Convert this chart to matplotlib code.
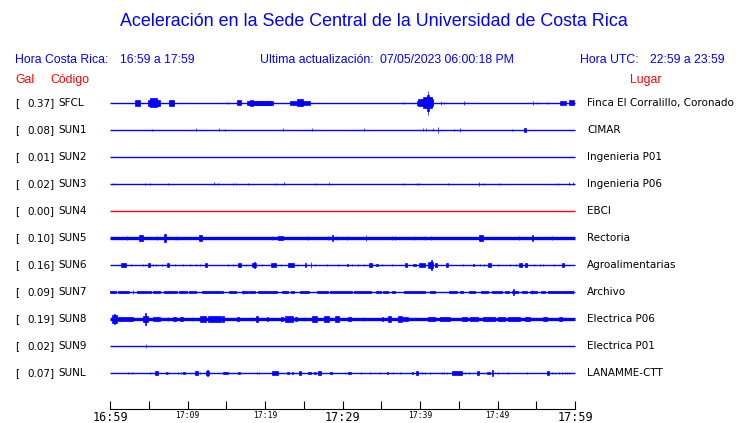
import matplotlib
matplotlib.use("Agg")
import matplotlib.pyplot as plt

# ---- data ---------------------------------------------------------------
codes = ["SFCL", "SUN1", "SUN2", "SUN3", "SUN4", "SUN5",
         "SUN6", "SUN7", "SUN8", "SUN9", "SUNL"]
peak_gal = [0.37, 0.08, 0.01, 0.02, 0.00, 0.10, 0.16, 0.09, 0.19, 0.02, 0.07]
places = ["Finca El Corralillo, Coronado", "CIMAR", "Ingenieria P01",
          "Ingenieria P06", "EBCI", "Rectoria", "Agroalimentarias",
          "Archivo", "Electrica P06", "Electrica P01", "LANAMME-CTT"]

tick_minutes = list(range(0, 61, 5))          # minutes after 16:59
tick_labels = ["16:59", "", "17:09", "", "17:19", "", "17:29",
               "", "17:39", "", "17:49", "", "17:59"]

# bursts per station: (start minute, end minute, half amplitude)
sfcl_events = [(3.23, 3.87, 2.7), (4.95, 6.45, 3.0), (5.16, 6.11, 4.5),
               (7.61, 8.26, 3.0), (15.27, 15.27, 1.0), (16.34, 16.86, 2.5),
               (17.63, 21.08, 2.0), (18.06, 18.41, 3.3), (18.5, 20.6, 2.3),
               (23.23, 25.81, 2.0), (24.09, 24.95, 3.5), (37.98, 37.98, 1.0),
               (39.57, 41.29, 2.0), (39.78, 41.72, 3.5), (40.43, 41.51, 5.5),
               (40.86, 41.20, 8.0), (41.03, 41.03, 11.7), (42.67, 42.67, 2.0),
               (43.14, 43.14, 1.3), (45.68, 45.68, 1.7), (54.62, 54.62, 2.0),
               (55.14, 55.14, 1.3), (56.56, 56.56, 1.3), (58.06, 58.80, 2.0),
               (59.27, 59.87, 2.5)]
sun1_events = [(5.46, 5.46, 1.0), (11.14, 11.14, 1.5), (14.11, 14.11, 1.5),
               (14.84, 14.84, 1.0), (22.37, 22.37, 1.5), (26.11, 26.11, 1.5),
               (32.82, 32.82, 1.5), (40.43, 40.43, 1.5), (40.77, 40.77, 1.5),
               (41.72, 41.72, 1.5), (42.37, 42.37, 2.7), (44.43, 44.43, 1.0),
               (45.16, 45.16, 2.0), (51.91, 51.91, 1.0), (53.42, 53.68, 1.8)]
sun2_events = []
sun3_events = [(0.43, 0.43, 1.2), (4.52, 4.52, 1.2), (5.16, 5.16, 1.2),
               (7.53, 7.53, 1.2), (13.46, 13.46, 1.5), (13.98, 13.98, 1.2),
               (15.91, 15.91, 1.2), (16.30, 16.30, 1.2), (17.85, 17.85, 1.2),
               (21.42, 21.42, 1.2), (22.45, 22.45, 1.5), (26.49, 26.49, 1.2),
               (28.30, 28.30, 1.5), (37.85, 37.85, 1.2), (39.66, 39.66, 1.2),
               (39.87, 39.87, 1.2), (43.66, 43.66, 1.2), (47.61, 47.61, 2.0),
               (48.17, 48.17, 1.2), (50.32, 50.32, 1.2), (57.85, 57.85, 1.2),
               (59.27, 59.27, 1.5), (59.78, 59.78, 1.5)]
sun4_events = []
sun5_events = [(2.15, 2.15, 2.3), (3.74, 4.22, 2.7), (6.11, 6.11, 2.0),
               (7.01, 7.18, 3.7), (8.69, 8.69, 2.3), (11.48, 11.83, 2.7),
               (20.95, 20.95, 2.0), (21.72, 22.28, 2.3), (25.59, 25.59, 2.0),
               (28.09, 28.09, 2.0), (28.69, 28.82, 3.0), (29.33, 29.33, 2.3),
               (30.62, 30.62, 2.3), (32.99, 32.99, 2.7), (36.43, 36.43, 2.0),
               (36.77, 36.77, 2.0), (39.27, 39.27, 2.3), (40.65, 40.65, 2.0),
               (41.42, 41.42, 2.3), (47.66, 48.17, 3.0), (52.82, 52.82, 2.0),
               (54.41, 54.54, 3.0), (56.99, 56.99, 2.0)]
sun6_events = [(1.42, 2.06, 1.7), (2.71, 2.71, 1.3), (4.30, 4.30, 1.3),
               (4.52, 4.52, 1.3), (4.95, 5.16, 1.7), (5.51, 5.51, 1.3),
               (5.89, 5.89, 1.3), (6.67, 6.67, 1.3), (7.31, 7.66, 1.7),
               (8.39, 8.39, 1.3), (9.46, 9.46, 1.3), (10.32, 10.32, 1.3),
               (11.05, 11.05, 1.0), (11.61, 11.61, 1.3), (12.26, 12.56, 1.7),
               (15.27, 15.27, 1.3), (15.91, 15.91, 1.0), (16.47, 16.86, 1.7),
               (17.51, 17.51, 1.0), (18.28, 18.80, 1.7), (18.62, 18.70, 2.7),
               (19.66, 19.66, 1.0), (20.77, 21.42, 1.7), (22.06, 22.06, 1.0),
               (23.01, 23.78, 1.7), (24.30, 24.30, 1.3), (25.16, 25.29, 2.3),
               (25.89, 25.89, 2.7), (26.45, 26.45, 1.3), (27.96, 27.96, 1.0),
               (29.46, 29.46, 1.0), (30.54, 30.75, 1.3), (31.27, 31.27, 1.3),
               (31.96, 31.96, 1.3), (32.82, 32.82, 1.3), (33.46, 33.81, 1.7),
               (34.32, 34.54, 1.3), (35.14, 35.14, 1.3), (36.43, 36.43, 1.0),
               (38.06, 38.37, 1.7), (39.14, 39.48, 1.3), (39.91, 40.65, 2.0),
               (41.08, 41.72, 3.0), (41.42, 41.59, 5.3), (41.94, 42.15, 1.7),
               (43.35, 43.66, 1.7), (45.59, 45.59, 1.0), (46.80, 46.97, 1.3),
               (47.74, 47.74, 1.3), (48.26, 48.26, 1.3), (48.82, 49.12, 1.7),
               (50.11, 50.11, 1.0), (51.61, 51.61, 1.3), (52.34, 52.34, 1.3),
               (52.82, 53.12, 1.7), (53.55, 53.76, 1.7), (54.75, 54.75, 1.0),
               (55.48, 55.48, 1.3), (55.83, 55.83, 1.3), (57.29, 57.29, 1.0),
               (58.28, 58.62, 1.7)]
sun7_events = [(0.0, 0.77, 1.3), (1.08, 2.49, 1.3), (3.01, 3.01, 2.0),
               (3.44, 4.73, 1.3), (4.95, 5.25, 1.3), (5.59, 6.45, 1.3),
               (6.97, 8.69, 1.3), (8.90, 9.89, 1.3), (10.24, 10.67, 1.3),
               (10.88, 11.05, 1.3), (11.83, 14.62, 1.3), (15.35, 16.26, 1.3),
               (16.99, 17.76, 1.3), (17.2, 17.2, 2.0), (17.94, 18.71, 1.3),
               (19.14, 21.51, 1.3), (22.15, 22.92, 1.3), (23.35, 23.78, 1.3),
               (24.52, 25.72, 1.3), (26.67, 28.17, 1.3), (28.39, 31.27, 1.3),
               (31.53, 33.63, 1.3), (34.32, 34.97, 1.3), (35.27, 35.91, 1.3),
               (36.34, 36.77, 1.3), (37.98, 40.65, 1.3), (41.29, 41.94, 1.3),
               (43.78, 44.73, 1.3), (45.16, 45.51, 1.3), (46.32, 47.10, 1.3),
               (47.83, 48.82, 1.3), (49.25, 50.54, 1.3), (50.97, 51.53, 1.3),
               (51.83, 52.69, 1.3), (51.95, 52.15, 3.3), (53.12, 53.76, 1.3),
               (54.19, 55.05, 1.3), (54.41, 54.41, 2.3), (55.57, 56.13, 1.3),
               (56.56, 59.70, 1.3), (59.78, 59.78, 2.0)]
sun8_events = [(0.2, 0.86, 4.0), (0.5, 0.6, 5.0), (1.08, 2.92, 2.3),
               (4.30, 4.95, 3.0), (4.55, 4.65, 5.7), (5.59, 6.45, 2.3),
               (7.44, 7.44, 2.3), (8.09, 8.52, 2.3), (9.03, 9.46, 2.0),
               (10.75, 10.75, 2.0), (11.61, 12.39, 3.0), (12.69, 14.28, 2.7),
               (14.41, 14.75, 3.3), (16.34, 16.69, 2.3), (18.28, 18.28, 2.0),
               (18.84, 19.14, 3.0), (20.22, 20.43, 2.3), (22.06, 22.37, 2.3),
               (22.58, 23.57, 2.7), (23.87, 24.09, 2.3), (25.16, 25.16, 2.3),
               (26.02, 26.75, 3.3), (27.61, 28.30, 3.0), (29.03, 29.59, 3.3),
               (30.75, 31.05, 2.3), (32.69, 32.69, 2.0), (35.05, 35.18, 2.3),
               (35.91, 36.22, 3.3), (37.12, 37.63, 3.3), (37.85, 38.49, 2.3),
               (41.08, 41.94, 2.0), (42.58, 43.87, 2.0), (45.38, 46.02, 2.0),
               (46.45, 47.53, 2.0), (48.17, 49.68, 2.0), (50.11, 50.97, 2.0),
               (51.40, 52.90, 2.0), (53.55, 54.19, 2.0), (55.91, 56.34, 2.0),
               (57.98, 58.28, 2.0)]
sun9_events = [(4.65, 4.65, 1.8)]
sunl_events = [(2.37, 2.37, 1.2), (2.88, 2.88, 1.2), (5.16, 5.16, 1.2),
               (5.81, 6.24, 1.7), (7.18, 7.31, 1.2), (7.53, 7.53, 1.2),
               (8.82, 8.82, 1.2), (9.12, 9.12, 1.2), (9.46, 9.68, 1.2),
               (10.97, 11.31, 1.7), (11.61, 11.61, 1.2), (12.39, 12.82, 2.0),
               (12.55, 12.65, 2.7), (14.62, 15.27, 1.3), (16.56, 16.77, 1.3),
               (18.92, 18.92, 1.2), (19.27, 19.27, 1.2), (20.86, 21.63, 1.7),
               (22.80, 23.14, 1.3), (23.44, 23.66, 1.3), (24.43, 24.65, 1.7),
               (25.59, 25.94, 1.3), (26.32, 26.58, 1.3), (26.88, 27.23, 1.7),
               (28.39, 28.60, 1.3), (30.32, 30.32, 1.2), (30.75, 31.10, 1.3),
               (32.34, 32.34, 1.2), (33.55, 33.55, 1.2), (34.84, 34.84, 1.2),
               (35.78, 35.91, 1.2), (36.56, 36.56, 1.2), (37.42, 37.42, 1.2),
               (38.92, 39.14, 1.2), (39.48, 39.78, 1.7), (40.22, 40.22, 1.2),
               (40.65, 40.65, 1.2), (41.29, 41.29, 1.2), (42.80, 42.80, 1.2),
               (43.10, 43.10, 1.2), (43.44, 43.44, 1.2), (44.09, 45.38, 2.0),
               (45.81, 45.81, 1.2), (46.37, 46.37, 1.2), (47.31, 47.66, 1.7),
               (48.60, 49.03, 1.3), (49.25, 49.46, 2.7), (50.11, 50.11, 1.2),
               (51.40, 51.40, 1.2), (53.85, 53.85, 1.2), (56.34, 56.69, 1.7),
               (56.99, 56.99, 1.2), (57.42, 57.42, 1.2), (57.98, 57.98, 1.2),
               (58.28, 58.28, 1.2), (58.71, 58.71, 1.2), (58.92, 58.92, 1.2),
               (59.27, 59.27, 1.2)]

events = [sfcl_events, sun1_events, sun2_events, sun3_events, sun4_events,
          sun5_events, sun6_events, sun7_events, sun8_events, sun9_events,
          sunl_events]

# ---- styling ------------------------------------------------------------
W, H = 740, 423
BLUE, RED = "#0000ff", "#ff0000"
ROW = 27.0                                   # trace units per row
trace_colours = [RED if g == 0 else BLUE for g in peak_gal]
base_lw = {"SUN5": 2.4, "SUN8": 2.4}         # thicker noisy baselines
HEAD = "Liberation Sans"
BODY = "DejaVu Sans"


def fx(x):
    return x / W


def fy(y):
    return 1 - y / H


fig = plt.figure(figsize=(W / 100, H / 100), dpi=100)

fig.text(fx(374), fy(22), "Aceleración en la Sede Central de la Universidad de Costa Rica",
         ha="center", va="center", color=BLUE, fontsize=12.9, family=HEAD)

header = [(15, 60, "Hora Costa Rica:", BLUE), (120, 60, "16:59 a 17:59", BLUE),
          (260, 60, "Ultima actualización:", BLUE), (380, 60, "07/05/2023 06:00:18 PM", BLUE),
          (580, 60, "Hora UTC:", BLUE), (650, 60, "22:59 a 23:59", BLUE),
          (15, 80, "Gal", RED), (50, 80, "Código", RED), (630, 80, "Lugar", RED)]
for x, y, s, c in header:
    fig.text(fx(x), fy(y), s, ha="left", va="center", color=c, fontsize=8.8, family=HEAD)

# traces
ax = fig.add_axes([fx(110), fy(386.5), 465 / W, 297 / H])
ax.set_xlim(0, 60)
ax.set_ylim(10.5, -0.5)
ax.axis("off")

for i, (code, ev) in enumerate(zip(codes, events)):
    c = trace_colours[i]
    y_px = 103 + 27 * i
    fig.text(fx(15), fy(y_px), "[", ha="left", va="center", fontsize=7.5, family=BODY)
    fig.text(fx(27), fy(y_px), f"{peak_gal[i]:.2f}]", ha="left", va="center",
             fontsize=7.5, family=BODY)
    fig.text(fx(58), fy(y_px), code, ha="left", va="center", fontsize=7.5, family=BODY)
    fig.text(fx(587), fy(y_px), places[i], ha="left", va="center", fontsize=7.5, family=BODY)

    ax.hlines(i, 0, 60, color=c, lw=base_lw.get(code, 1.0), clip_on=False)
    if ev:
        starts = [e[0] for e in ev]
        widths = [e[1] - e[0] for e in ev]
        amps = [e[2] / ROW for e in ev]
        ax.bar(starts, [2 * a for a in amps], width=widths,
               bottom=[i - a for a in amps], align="edge",
               color=c, edgecolor=c, linewidth=0.5, clip_on=False)

# time axis
axt = fig.add_axes([fx(110), fy(409), 465 / W, 0.05])
axt.set_xlim(0, 60)
for s in ["top", "left", "right"]:
    axt.spines[s].set_visible(False)
axt.spines["bottom"].set_linewidth(0.8)
axt.set_yticks([])
axt.set_xticks(tick_minutes)
axt.set_xticklabels(tick_labels, family="DejaVu Sans Mono")
axt.tick_params(axis="x", direction="in", length=5.8, width=0.8, pad=1.5)
for lab, m in zip(axt.get_xticklabels(), tick_minutes):
    lab.set_fontsize(8.5 if m in (0, 30, 60) else 5.8)
axt.patch.set_visible(False)

fig.savefig("out.png", dpi=100)
